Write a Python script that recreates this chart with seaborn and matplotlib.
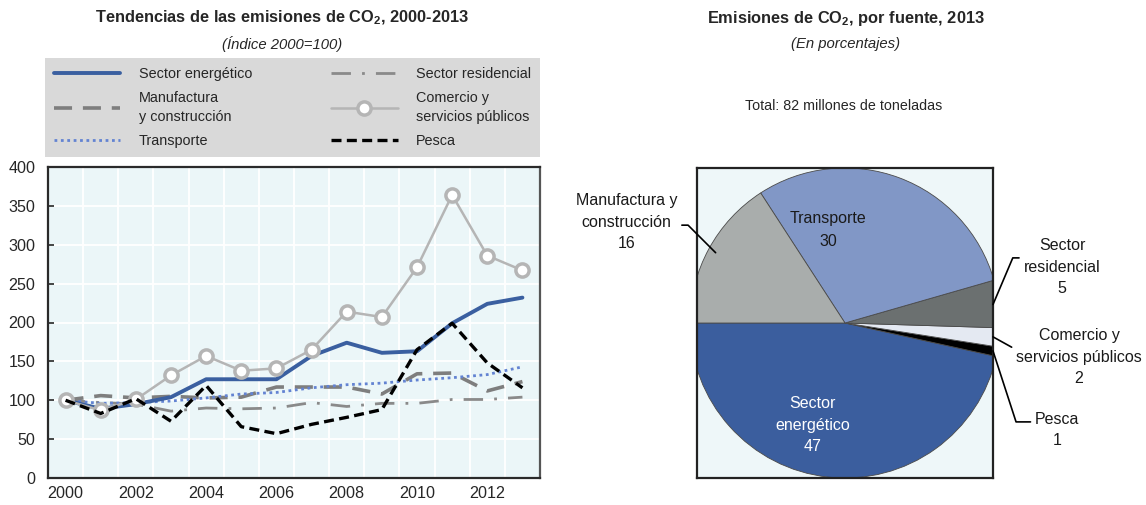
import numpy as np
import pandas as pd
import matplotlib
matplotlib.use('Agg')
import matplotlib.pyplot as plt
import seaborn as sns

years = list(range(2000, 2014))
energetico = [100, 89, 95, 104, 127, 127, 127, 157, 174, 161, 163, 199, 224, 232]
manufactura = [100, 106, 103, 105, 103, 104, 117, 117, 117, 108, 134, 135, 112, 124]
transporte = [100, 96, 97, 99, 103, 108, 110, 116, 120, 122, 126, 129, 133, 143]
residencial = [100, 97, 95, 86, 90, 89, 90, 97, 92, 96, 96, 101, 101, 104]
comercio = [100, 87, 101, 132, 157, 138, 141, 165, 214, 207, 271, 364, 286, 267]
pesca = [100, 83, 102, 73, 119, 66, 57, 69, 78, 88, 165, 199, 148, 116]

pie_labels = ['Sector energético', 'Pesca', 'Comercio y servicios públicos',
              'Sector residencial', 'Transporte', 'Manufactura y construcción']
pie_values = [47, 1, 2, 5, 30, 16]
pie_colors = ['#3B5E9E', '#000000', '#E4E9F2', '#6B7070', '#8197C6', '#A9ADAC']

sns.set_theme(style='white')
plt.rcParams['font.family'] = ['Liberation Sans', 'DejaVu Sans']
plt.rcParams['mathtext.fontset'] = 'custom'
plt.rcParams['mathtext.rm'] = 'Liberation Sans'
plt.rcParams['mathtext.bf'] = 'Liberation Sans:bold'

W, H = 1146, 505
fig = plt.figure(figsize=(W / 100, H / 100), dpi=100)
fig.patch.set_facecolor('white')
ax1 = fig.add_axes([48 / W, 27 / H, 492 / W, 311 / H])
ax2 = fig.add_axes([697 / W, 27 / H, 296 / W, 310 / H])

# ---- line chart
ax1.set_facecolor('#EBF6F8')
sns.lineplot(x=years, y=residencial, ax=ax1, color='#8A8A8A', lw=2.0,
             linestyle=(0, (7, 4, 1, 4)), label='Sector residencial')
sns.lineplot(x=years, y=manufactura, ax=ax1, color='#7E7E7E', lw=2.6,
             linestyle=(0, (5, 3)), label='Manufactura\ny construcción')
sns.lineplot(x=years, y=transporte, ax=ax1, color='#6383D2', lw=2.0,
             linestyle=(0, (1, 1.3)), label='Transporte')
sns.lineplot(x=years, y=energetico, ax=ax1, color='#3A5FA0', lw=2.8,
             label='Sector energético')
sns.lineplot(x=years, y=comercio, ax=ax1, color='#B5B5B5', lw=1.8, marker='o',
             markersize=9.5, markerfacecolor='white', markeredgecolor='#B5B5B5',
             markeredgewidth=2.5, label='Comercio y\nservicios públicos')
sns.lineplot(x=years, y=pesca, ax=ax1, color='black', lw=2.4,
             linestyle=(0, (3, 1.6)), label='Pesca')

ax1.set_xlim(1999.5, 2013.5)
ax1.set_ylim(0, 400)
ax1.set_yticks(np.arange(0, 401, 50))
ax1.set_xticks(np.arange(2000, 2013, 2))
ax1.set_xticks(np.arange(2000.5, 2013, 1), minor=True)
ax1.tick_params(axis='x', which='major', length=0, pad=6, labelsize=11.6)
ax1.tick_params(axis='x', which='minor', direction='in', length=5, width=1.3, color='#222222')
ax1.tick_params(axis='y', direction='in', length=4, width=1.2, pad=9, labelsize=11.6, left=True)
ax1.grid(which='minor', axis='x', color='white', lw=1.3)
ax1.grid(which='major', axis='y', color='white', lw=1.3)
ax1.set_axisbelow(True)
for s in ax1.spines.values():
    s.set_visible(True)
    s.set_color('#2a2a2a')
    s.set_linewidth(1.6)
ax1.spines['right'].set_color('#555555')
ax1.set_xlabel('')
ax1.set_ylabel('')

handles, labels = ax1.get_legend_handles_labels()
order = ['Sector energético', 'Manufactura\ny construcción', 'Transporte',
         'Sector residencial', 'Comercio y\nservicios públicos', 'Pesca']
hmap = dict(zip(labels, handles))
ax1.get_legend().remove()
leg = fig.legend([hmap[o] for o in order], order, loc='lower left',
                 bbox_to_anchor=(45 / W, 348 / H, 495 / W, 109 / H), mode='expand',
                 ncol=2, frameon=True, facecolor='#D9D9D9', edgecolor='none',
                 framealpha=1, fancybox=False, handlelength=4.6, fontsize=10.4,
                 borderaxespad=0, labelspacing=0.7, handletextpad=1.3, numpoints=1,
                 borderpad=0.6)
for t in leg.get_texts():
    t.set_linespacing(1.45)

fig.text(282 / W, 1 - 18 / H, 'Tendencias de las emisiones de CO$_\\mathbf{2}$, 2000-2013',
         ha='center', va='center', fontsize=11.8, fontweight='bold')
fig.text(282 / W, 1 - 44 / H, '(Índice 2000=100)', ha='center', va='center',
         fontsize=10.7, style='italic')

# ---- pie chart
ax2.set_facecolor('#EEF7F9')
wedges, _ = ax2.pie(pie_values, colors=pie_colors, startangle=180, counterclock=True,
                    frame=True, wedgeprops=dict(edgecolor='#4a4a4a', linewidth=0.6))
for w in wedges:
    w.set_clip_on(True)
    w.set_clip_path(ax2.patch)
xe = 148 / 155
ax2.set_xlim(-xe, xe)
ax2.set_ylim(-1, 1)
ax2.set_aspect('auto')
ax2.set_xticks([])
ax2.set_yticks([])
for s in ax2.spines.values():
    s.set_visible(True)
    s.set_color('#222222')
    s.set_linewidth(1.6)

fs = 11.5
ls = 1.55
ax2.text(-0.11, 0.60, 'Transporte\n30', ha='center', va='center', fontsize=fs,
         color='#1a1a1a', linespacing=1.7)
ax2.text(-0.21, -0.66, 'Sector\nenergético\n47', ha='center', va='center', fontsize=fs,
         color='white', linespacing=ls)

mids = {lab: np.deg2rad((w.theta1 + w.theta2) / 2) for lab, w in zip(pie_labels, wedges)}


def edge_point(a):
    x, y = np.cos(a), np.sin(a)
    if abs(x) > xe:
        return (np.sign(x) * xe, np.sign(x) * xe * np.tan(a))
    return (0.95 * x, 0.95 * y)


callouts = [
    ('Manufactura y construcción', 'Manufactura y\nconstrucción\n16', (-1.41, 0.65), (1, 0.45), 135),
    ('Sector residencial', 'Sector\nresidencial\n5', (1.40, 0.36), (0, 0.66), 67),
    ('Comercio y servicios públicos', 'Comercio y\nservicios públicos\n2', (1.51, -0.22), (0, 0.66), -29),
    ('Pesca', 'Pesca\n1', (1.37, -0.69), (0, 0.72), -72),
]
for key, txt, pos, rel, angb in callouts:
    ax2.annotate(txt, xy=edge_point(mids[key]), xytext=pos, ha='center', va='center',
                 fontsize=fs, color='#1a1a1a', linespacing=ls, annotation_clip=False,
                 arrowprops=dict(arrowstyle='-', color='black', lw=1.2, relpos=rel,
                                 shrinkA=1, shrinkB=0,
                                 connectionstyle='angle,angleA=0,angleB=%d,rad=0' % angb))

fig.text(846 / W, 1 - 18 / H, 'Emisiones de CO$_\\mathbf{2}$, por fuente, 2013',
         ha='center', va='center', fontsize=11.8, fontweight='bold')
fig.text(846 / W, 1 - 44 / H, '(En porcentajes)', ha='center', va='center',
         fontsize=10.7, style='italic')
fig.text(844 / W, 1 - 106 / H, 'Total: 82 millones de toneladas', ha='center', va='center',
         fontsize=10.3)

fig.savefig('out.png', dpi=100)
